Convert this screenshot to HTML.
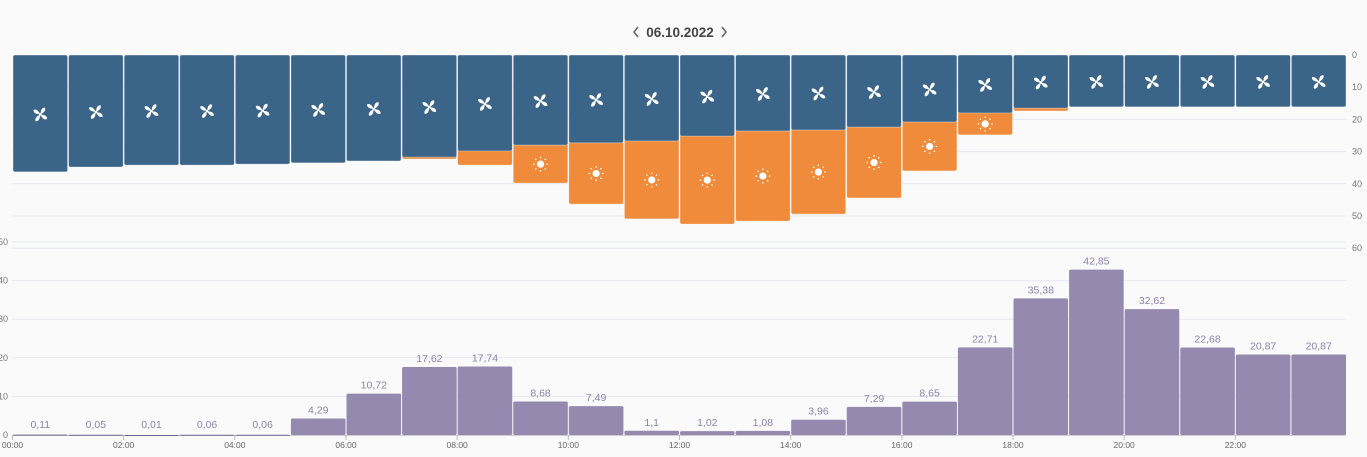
<!DOCTYPE html>
<html><head><meta charset="utf-8"><style>
html,body{margin:0;padding:0;background:#fafafa;}
body{width:1367px;height:457px;overflow:hidden;font-family:"Liberation Sans",sans-serif;}
svg{display:block}
</style></head><body>
<svg id="c" width="1367" height="457">
<g>
<path d="M638,27 L634,32 L638,37" fill="none" stroke="#666" stroke-width="1.6"/>
<text x="680" y="37" font-size="13.5" font-weight="bold" fill="#444" text-anchor="middle">06.10.2022</text>
<path d="M722,27 L726,32 L722,37" fill="none" stroke="#666" stroke-width="1.6"/>
</g>
</svg>
<script>
const hours=[0,1,2,3,4,5,6,7,8,9,10,11,12,13,14,15,16,17,18,19,20,21,22,23];
const windVals=[36.3,34.8,34.2,34.2,33.9,33.5,32.9,31.7,29.8,28,27.3,26.7,25.2,23.6,23.3,22.4,20.8,18,16.5,16.1,16.1,16.1,16.1,16.1];
const sunVals=[0,0,0,0,0,0,0,0.6,4.4,11.8,19,24.2,27.3,28,26.1,22,15.2,6.8,0.9,0,0,0,0,0];
const consVals=[0.11,0.05,0.01,0.06,0.06,4.29,10.72,17.62,17.74,8.68,7.49,1.1,1.02,1.08,3.96,7.29,8.65,22.71,35.38,42.85,32.62,22.68,20.87,20.87];
const consLabels=["0,11","0,05","0,01","0,06","0,06","4,29","10,72","17,62","17,74","8,68","7,49","1,1","1,02","1,08","3,96","7,29","8,65","22,71","35,38","42,85","32,62","22,68","20,87","20,87"];
const topTicks=[0,10,20,30,40,50,60];
const botTicks=[0,10,20,30,40,50];
const xTickLabels=["00:00","02:00","04:00","06:00","08:00","10:00","12:00","14:00","16:00","18:00","20:00","22:00"];

const svg=document.getElementById('c');
const NS='http://www.w3.org/2000/svg';
function mk(t,a,p){const e=document.createElementNS(NS,t);for(const k in a)e.setAttribute(k,a[k]);(p||svg).appendChild(e);return e;}
const X0=12.5,XW=1334/24;
const xs=h=>X0+h*XW;
const yTop=v=>55+v*3.22;
const yBot=v=>435-v*3.86;

const tg=mk('g',{});


topTicks.forEach(t=>{
  if(t>0) mk('line',{x1:12,x2:1346,y1:yTop(t),y2:yTop(t),stroke:'#e3e6f2','stroke-width':1},tg);
  const tx=mk('text',{x:1352,y:yTop(t)+3,'font-size':9,fill:'#777'},tg);tx.textContent=t;
  
  
});
const bg=mk('g',{});


botTicks.forEach(t=>{
  if(t>0) mk('line',{x1:12,x2:1346,y1:yBot(t),y2:yBot(t),stroke:'#e6e8f2','stroke-width':1},bg);
  const tx=mk('text',{x:8,y:yBot(t)+3,'font-size':9,fill:'#777','text-anchor':'end'},bg);tx.textContent=t;
  
  
});
mk('line',{x1:12,x2:1346,y1:435.5,y2:435.5,stroke:'#ccc'},bg);
xTickLabels.forEach((l,i)=>{
  const x=xs(i*2);
  mk('line',{x1:x,x2:x,y1:435,y2:440,stroke:'#bbb'},bg);
  const tx=mk('text',{x:x,y:448,'font-size':8.5,fill:'#666','text-anchor':'middle'},bg);tx.textContent=l;
  
  
});

function fan(cx,cy,p){
  const g=mk('g',{transform:`translate(${cx},${cy})`},p);
  
  
  for(let i=0;i<4;i++){
    mk('path',{d:'M0,-1 C-1,-4 -1,-7 2,-8 C4,-6 3,-3 0,0 Z',fill:'#fff',transform:`rotate(${i*90+20})`},g);
  }
  mk('circle',{cx:0,cy:0,r:1.3,fill:'#fff'},g);
}
function sun(cx,cy,p){
  const g=mk('g',{transform:`translate(${cx},${cy})`},p);
  
  
  mk('circle',{cx:0,cy:0,r:3.6,fill:'#fff'},g);
  for(let i=0;i<8;i++){
    const a=i*Math.PI/4;
    mk('line',{x1:6*Math.cos(a),y1:6*Math.sin(a),x2:7.5*Math.cos(a),y2:7.5*Math.sin(a),stroke:'#fff','stroke-width':1.3},g);
  }
}

hours.forEach((h,i)=>{
  const x=xs(h)+0.5,w=XW-1;
  const g=mk('g',{});
  
  
  const w1=windVals[i],s1=sunVals[i];
  if(s1>0){
    const r=mk('rect',{x:x,y:yTop(w1)-2,width:w,height:yTop(w1+s1)-yTop(w1)+2,rx:2,fill:'#ef8b3a',stroke:'#fff','stroke-opacity':0.5,'stroke-width':0.7},g);
    
    
  }
  const b=mk('rect',{x:x,y:yTop(0),width:w,height:yTop(w1)-yTop(0),rx:2,fill:'#3b6489',stroke:'#fff','stroke-opacity':0.5,'stroke-width':0.7},g);
  
  
  fan(x+w/2,(yTop(0)+yTop(w1))/2+1,g);
  if(s1>5) sun(x+w/2,(yTop(w1)+yTop(w1+s1))/2,g);

  const v=consVals[i];
  const yb=yBot(v);
  const cb=mk('rect',{x:x,y:yb,width:w,height:Math.max(435-yb,1),rx:1.5,fill:v<0.5?'#6f6690':'#9589b0'});
  
  
  const lt=mk('text',{x:x+w/2,y:Math.min(yb,433)-5,'font-size':10.5,fill:'#8c82aa','text-anchor':'middle'});
  lt.textContent=consLabels[i];
  
  
});
</script>
</body></html>
